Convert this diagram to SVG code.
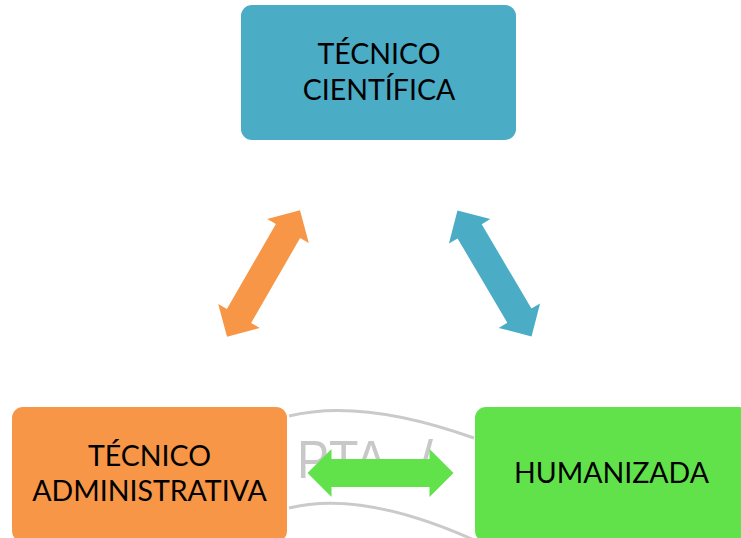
<svg xmlns="http://www.w3.org/2000/svg" width="741" height="538" viewBox="0 0 741 538">
  <style>
    .box { stroke: none; }
    .lbl { font-family: Lato, "Open Sans", "Liberation Sans", sans-serif; font-size: 28.5px; fill: #000; text-anchor: middle; }
    .wm { fill: none; stroke: #cacaca; stroke-width: 3; }
    .wmt { font-family: "Liberation Sans", sans-serif; font-size: 54px; fill: #c8c8c8; }
  </style>
  <defs>
    <path id="dbl" d="M -73,0 L -49,-24 L -49,-14 L 49,-14 L 49,-24 L 73,0 L 49,24 L 49,14 L -49,14 L -49,24 Z"/>
  </defs>
  <rect width="741" height="538" fill="#ffffff"/>
  <g id="watermark">
    <path class="wm" d="M 289,416 Q 362,398 474,438"/>
    <path class="wm" d="M 289,508 Q 362,490 474,540"/>
    <text class="wmt" x="297" y="478" textLength="90" lengthAdjust="spacingAndGlyphs">PTA</text>
    <text class="wmt" x="418" y="478">/</text>
  </g>
  <g id="node-tecnico-cientifica">
    <rect class="box" x="241" y="5" width="275" height="135" rx="11" fill="#4BACC6"/>
    <text class="lbl" x="379" y="64">TÉCNICO</text>
    <text class="lbl" x="379" y="100">CIENTÍFICA</text>
  </g>
  <g id="node-tecnico-administrativa">
    <rect class="box" x="12" y="407" width="275" height="135" rx="11" fill="#F79646"/>
    <text class="lbl" x="149.5" y="466">TÉCNICO</text>
    <text class="lbl" x="149.5" y="501">ADMINISTRATIVA</text>
  </g>
  <g id="node-humanizada">
    <rect class="box" x="475" y="407" width="275" height="135" rx="11" fill="#61E24B"/>
    <text class="lbl" x="611.5" y="483">HUMANIZADA</text>
  </g>
  <g id="connectors">
    <use href="#dbl" fill="#F79646" transform="translate(263.5,273.5) rotate(-60)"/>
    <use href="#dbl" fill="#4BACC6" transform="translate(494.5,273.5) rotate(59.5)"/>
    <use href="#dbl" fill="#61E24B" transform="translate(380.5,473)"/>
  </g>
</svg>
